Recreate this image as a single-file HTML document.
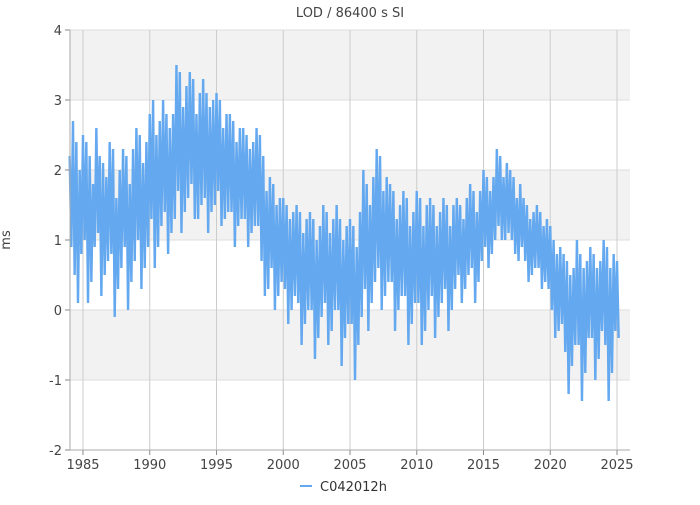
<!DOCTYPE html>
<html><head><meta charset="utf-8"><style>
body{margin:0;background:#fff;}
svg text{font-family:"DejaVu Sans","Liberation Sans",sans-serif;}
</style></head><body>
<svg id="chart" width="700" height="500" xmlns="http://www.w3.org/2000/svg">
<g id="bands"></g>
<g id="grid"></g>
<g id="series"></g>
<g id="axes"></g>
<text x="350" y="17" text-anchor="middle" font-size="13" fill="#444">LOD / 86400 s SI</text>
<text x="10" y="240" text-anchor="middle" font-size="13" fill="#444" transform="rotate(-90 10 240)">ms</text>
<g>
<line x1="300" y1="486" x2="312" y2="486" stroke="#64a8ef" stroke-width="2"/>
<text x="320" y="491" font-size="13" fill="#333">C042012h</text>
</g>
</svg>
<script>
const startYear = 1984.0;
const stepYears = 0.125;
const yTicks = [-2,-1,0,1,2,3,4];
const xTicks = [1985,1990,1995,2000,2005,2010,2015,2020,2025];
const lodValues = [
2.2,0.9,2.7,0.5,2.4,0.1,2.0,0.8,
2.5,1.0,2.4,0.1,2.2,0.4,1.8,0.9,
2.6,1.1,2.2,0.2,2.1,0.5,1.9,0.7,
2.4,0.8,2.3,-0.1,1.6,0.3,2.0,0.6,
2.3,0.9,2.2,0.0,1.8,0.4,2.3,0.7,
2.6,1.0,2.5,0.3,2.1,0.6,2.4,0.9,
2.8,1.3,3.0,0.6,2.5,0.9,2.7,1.2,
3.0,1.4,2.8,0.8,2.6,1.1,2.8,1.3,
3.5,1.7,3.4,1.1,2.9,1.4,3.2,1.6,
3.4,1.8,3.3,1.3,2.8,1.3,3.1,1.5,
3.3,1.6,3.1,1.1,2.9,1.4,3.0,1.5,
3.1,1.7,3.0,1.2,2.6,1.3,2.8,1.4,
2.8,1.4,2.7,0.9,2.4,1.2,2.6,1.3,
2.6,1.3,2.5,0.9,2.3,1.1,2.4,1.2,
2.6,1.2,2.5,0.7,2.2,0.2,1.7,0.3,
1.9,0.6,1.8,0.0,1.5,0.2,1.6,0.4,
1.6,0.3,1.5,-0.2,1.3,0.0,1.4,0.2,
1.5,0.1,1.4,-0.5,1.1,-0.2,1.3,0.0,
1.4,0.0,1.3,-0.7,1.0,-0.4,1.2,-0.1,
1.5,0.1,1.4,-0.5,1.1,-0.3,1.3,0.0,
1.5,0.0,1.3,-0.8,1.0,-0.4,1.2,-0.2,
1.3,-0.2,1.2,-1.0,0.9,-0.5,1.4,-0.1,
2.0,0.3,1.8,-0.3,1.5,0.1,1.9,0.4,
2.3,0.6,2.2,0.0,1.7,0.2,1.9,0.4,
1.8,0.4,1.7,-0.3,1.3,0.0,1.5,0.2,
1.7,0.2,1.6,-0.5,1.2,-0.2,1.4,0.1,
1.7,0.1,1.6,-0.5,1.2,-0.3,1.5,0.0,
1.6,0.2,1.5,-0.4,1.2,-0.1,1.4,0.1,
1.6,0.3,1.5,-0.3,1.2,0.0,1.5,0.3,
1.6,0.5,1.5,0.1,1.3,0.3,1.6,0.5,
1.8,0.6,1.7,0.1,1.4,0.4,1.7,0.7,
2.0,0.9,1.9,0.6,1.7,0.8,1.9,1.0,
2.3,1.2,2.2,1.0,1.9,1.0,2.1,1.1,
2.0,1.0,1.9,0.8,1.6,0.7,1.8,0.9,
1.6,0.7,1.5,0.4,1.3,0.5,1.4,0.6,
1.5,0.6,1.4,0.3,1.2,0.4,1.3,0.3,
1.2,0.0,1.0,-0.4,0.8,-0.3,0.9,-0.2,
0.8,-0.6,0.7,-1.2,0.5,-0.8,0.6,-0.5,
1.0,-0.5,0.8,-1.3,0.6,-0.9,0.7,-0.4,
0.9,-0.4,0.8,-1.0,0.6,-0.7,0.7,-0.3,
1.0,-0.5,0.9,-1.3,0.6,-0.9,0.8,-0.3,
0.7,-0.4
];
const NS="http://www.w3.org/2000/svg";
const L=70,R=630,T=30,B=450;
function xs(yr){return 83+(yr-1985)*13.35;}
function ys(v){return 310-v*70;}
function mk(tag,attrs,parent){const e=document.createElementNS(NS,tag);for(const k in attrs)e.setAttribute(k,attrs[k]);parent.appendChild(e);return e;}
const bands=document.getElementById('bands'),grid=document.getElementById('grid'),series=document.getElementById('series'),axes=document.getElementById('axes');
[[3,4],[1,2],[-1,0]].forEach(b=>{
 const r=mk('rect',{x:L,y:ys(b[1]),width:R-L,height:ys(b[0])-ys(b[1]),fill:'#f2f2f2'},bands);
 
 
});
yTicks.forEach(v=>{
 const g=mk('line',{x1:L,x2:R,y1:ys(v),y2:ys(v),stroke:'#dddddd','stroke-width':1},grid);
 
 
 const t=mk('line',{x1:L-5,x2:L,y1:ys(v),y2:ys(v),stroke:'#888'},axes);
 
 
 const lb=mk('text',{x:L-8,y:ys(v)+5,'text-anchor':'end','font-size':13,fill:'#444'},axes);
 lb.textContent=v;
 
 
});
xTicks.forEach(v=>{
 const g=mk('line',{x1:xs(v),x2:xs(v),y1:T,y2:B,stroke:'#cccccc','stroke-width':1},grid);
 
 
 const t=mk('line',{x1:xs(v),x2:xs(v),y1:B,y2:B+5,stroke:'#888'},axes);
 
 
 const lb=mk('text',{x:xs(v),y:B+19,'text-anchor':'middle','font-size':13,fill:'#444'},axes);
 lb.textContent=v;
 
 
});
const ax1=mk('line',{x1:L,x2:L,y1:T,y2:B,stroke:'#aaa'},axes);


const ax2=mk('line',{x1:L,x2:R,y1:B,y2:B,stroke:'#aaa'},axes);


const pts=lodValues.map((v,i)=>xs(startYear+i*stepYears).toFixed(2)+','+ys(v).toFixed(2)).join(' ');
const pl=mk('polyline',{points:pts,fill:'none',stroke:'#64a8ef','stroke-width':2.4,'stroke-linejoin':'bevel'},series);


</script>
</body></html>
